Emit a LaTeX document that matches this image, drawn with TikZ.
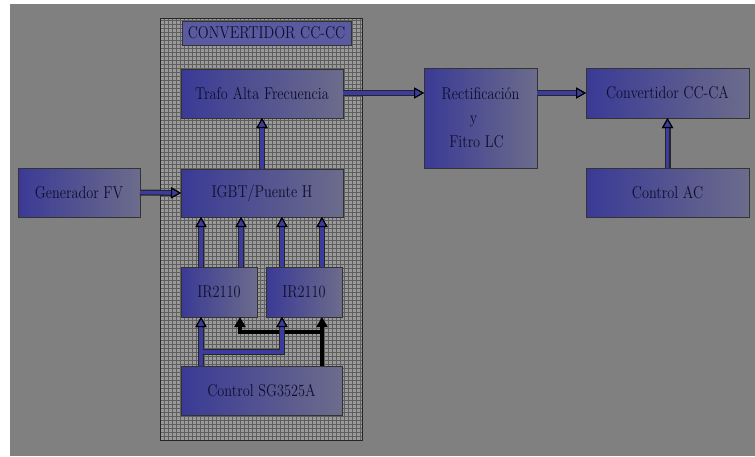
\documentclass[tikz,border=0pt]{standalone}
\usepackage{graphicx}
\usetikzlibrary{arrows.meta}
\definecolor{bg}{HTML}{808080}
\definecolor{boxl}{HTML}{3A3A96}
\definecolor{boxr}{HTML}{6C6C8C}
\definecolor{txt}{HTML}{0E0E2E}
\definecolor{arrblue}{HTML}{3C3CA0}
\definecolor{gridfill}{HTML}{9A9A9A}
\definecolor{gridline}{HTML}{5E5E5E}
\definecolor{titlefill}{HTML}{5A5AA0}
\newcommand{\stx}[1]{\scalebox{1}[1.2]{#1}}
\tikzset{
  blk/.style={draw=black!80, line width=0.8pt, left color=boxl, right color=boxr,
    inner sep=0pt, outer sep=0pt, text=txt, font=\fontsize{14.3}{24}\selectfont, align=center},
  tipb/.tip={Triangle[length=10pt, width=11pt, line width=1.1pt, color=black, fill=arrblue]},
  bout/.style={draw=black!85, line width=6pt, -tipb},
  bin/.style={draw=arrblue, line width=3.4pt, -tipb},
  barrow/.style={bin, preaction={bout}},
  karrow/.style={draw=black, line width=4.6pt, -{Triangle[length=10pt, width=11pt]}},
}
\begin{document}
\begin{tikzpicture}[x=1pt, y=-1pt]
\useasboundingbox (0,0) rectangle (755,456);
\fill[white] (0,0) rectangle (755,456);
\fill[bg] (10,4) rectangle (755,456);
% grid frame
\fill[gridfill] (160,18) rectangle (362,440);
\begin{scope}
  \clip (160,18) rectangle (362,440);
  \draw[gridline, line width=0.7pt, step=4pt] (158,16) grid (364,442);
\end{scope}
\draw[black!85, line width=0.9pt] (160,18) rectangle (362,440);
% title
\node[draw=black!80, line width=0.8pt, fill=titlefill, text=txt, inner sep=0pt,
  minimum width=169pt, minimum height=24pt, font=\fontsize{14.3}{17}\selectfont]
  (title) at (266.5,33) {\stx{CONVERTIDOR CC-CC}};
% blocks
\node[blk, minimum width=162pt, minimum height=49pt] (trafo) at (262,93.5) {\stx{Trafo Alta Frecuencia}};
\node[blk, minimum width=162pt, minimum height=48pt] (igbt) at (262,193) {\stx{IGBT/Puente H}};
\node[blk, minimum width=76pt, minimum height=50pt] (ir1) at (219,292) {\stx{IR2110}};
\node[blk, minimum width=76pt, minimum height=50pt] (ir2) at (304,292) {\stx{IR2110}};
\node[blk, minimum width=161pt, minimum height=49pt] (ctrl) at (261.5,390.5) {\stx{Control SG3525A}};
\node[blk, minimum width=122pt, minimum height=49pt] (gen) at (79,192.5) {\stx{Generador FV}};
\node[blk, minimum width=113pt, minimum height=100pt] (rect) at (480.5,118)
  {\stx{Rectificaci\'on}\\\hspace*{-14pt}\stx{y}\\\hspace*{-8pt}\stx{Fitro LC}};
\node[blk, minimum width=163pt, minimum height=50pt] (conv) at (667.5,93) {\stx{Convertidor CC-CA}};
\node[blk, minimum width=163pt, minimum height=49pt] (ctrlac) at (667.5,192.5) {\stx{Control AC}};
% main connectors
\draw[barrow] (gen.east) -- (igbt.west);
\draw[barrow] (igbt.north) -- (trafo.south);
\draw[barrow] (trafo.east |- conv.west) -- (rect.west |- conv.west);
\draw[barrow] (rect.east |- conv.west) -- (conv.west);
\draw[barrow] (ctrlac.north) -- (conv.south);
% IR2110 -> IGBT
\draw[barrow] ([xshift=-18pt]ir1.north) -- ([xshift=-18pt]ir1.north |- igbt.south);
\draw[barrow] ([xshift=22pt]ir1.north) -- ([xshift=22pt]ir1.north |- igbt.south);
\draw[barrow] ([xshift=-22pt]ir2.north) -- ([xshift=-22pt]ir2.north |- igbt.south);
\draw[barrow] ([xshift=18pt]ir2.north) -- ([xshift=18pt]ir2.north |- igbt.south);
% control -> IR2110 (black)
\coordinate (kb) at ([xshift=18pt]ir2.south |- ctrl.north);
\coordinate (kj) at ([xshift=18pt,yshift=-15pt]ir2.south);
\draw[karrow] (kb) -- ([xshift=18pt]ir2.south);
\draw[karrow, line join=miter] (kj) -| ([xshift=21pt]ir1.south);
% control -> IR2110 (blue)
\coordinate (bb) at ([xshift=-18pt]ir1.south |- ctrl.north);
\coordinate (bj) at ([xshift=-18pt,yshift=-35pt]ir1.south);
\draw[bout] (bb) -- ([xshift=-18pt]ir1.south);
\draw[bout, line join=miter] (bj) -| ([xshift=-22pt]ir2.south);
\draw[bin] (bb) -- ([xshift=-18pt]ir1.south);
\draw[bin, line join=miter] (bj) -| ([xshift=-22pt]ir2.south);
\end{tikzpicture}
\end{document}
